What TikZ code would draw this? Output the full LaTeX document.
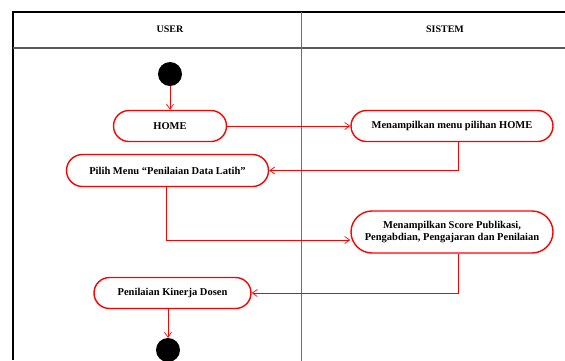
\documentclass[tikz,border=0pt]{standalone}
\usepackage{fontspec}
\setmainfont{Liberation Serif}
\usetikzlibrary{shapes.misc,arrows.meta,calc}
\definecolor{divblue}{RGB}{70,115,185}
\begin{document}
\begin{tikzpicture}[x=1pt,y=-1pt,
  act/.style={rounded rectangle, draw=red, line width=1.4pt, fill=white, font=\bfseries\fontsize{10.5}{12}\selectfont, align=center, inner sep=0pt},
  flow/.style={draw=red, line width=0.7pt, -{Straight Barb[length=5pt,width=7pt]}},
  dot/.style={circle, fill=black, minimum size=24pt, inner sep=0pt},
  hdr/.style={font=\bfseries\fontsize{10}{12}\selectfont}]
\useasboundingbox (0,0) rectangle (565,360);
% frame
\draw[black, line width=1.6pt] (13,360) -- (13,12) -- (566,12);
\draw[gray!70!black, line width=1.2pt] (13,48) -- (566,48);
\draw[divblue, line width=0.8pt] (301,12) -- (301,361);
\node[hdr] (huser) at (170,29) {USER};
\node[hdr] (hsys) at (445,29) {SISTEM};
% nodes
\node[dot] (start) at (170,74) {};
\node[act, minimum width=113pt, minimum height=31pt] (home) at (170,126) {HOME};
\node[act, minimum width=202pt, minimum height=31pt] (menu) at (452,126) {Menampilkan menu pilihan HOME};
\node[act, minimum width=202pt, minimum height=32pt] (pilih) at (167.5,170.5) {Pilih Menu “Penilaian Data Latih”};
\node[act, minimum width=202pt, minimum height=42pt] (score) at (452,232) {Menampilkan Score Publikasi,\\Pengabdian, Pengajaran dan Penilaian};
\node[act, minimum width=157pt, minimum height=31pt] (nilai) at (172.5,293) {Penilaian Kinerja Dosen};
\node[dot] (end) at (168,350) {};
% connectors
\draw[flow] (start) -- (home);
\draw[flow] (home.east) -- (menu.west);
\draw[flow] ([xshift=6pt]menu.south) |- (pilih.east);
\draw[flow] ([xshift=-1.5pt]pilih.south) |- ([yshift=-8pt]score.west);
\draw[flow] ([xshift=6pt]score.south) |- (nilai.east);
\draw[flow] ([xshift=-4.5pt]nilai.south) -- ([xshift=-4.5pt]nilai.south |- end.north);
\end{tikzpicture}
\end{document}
